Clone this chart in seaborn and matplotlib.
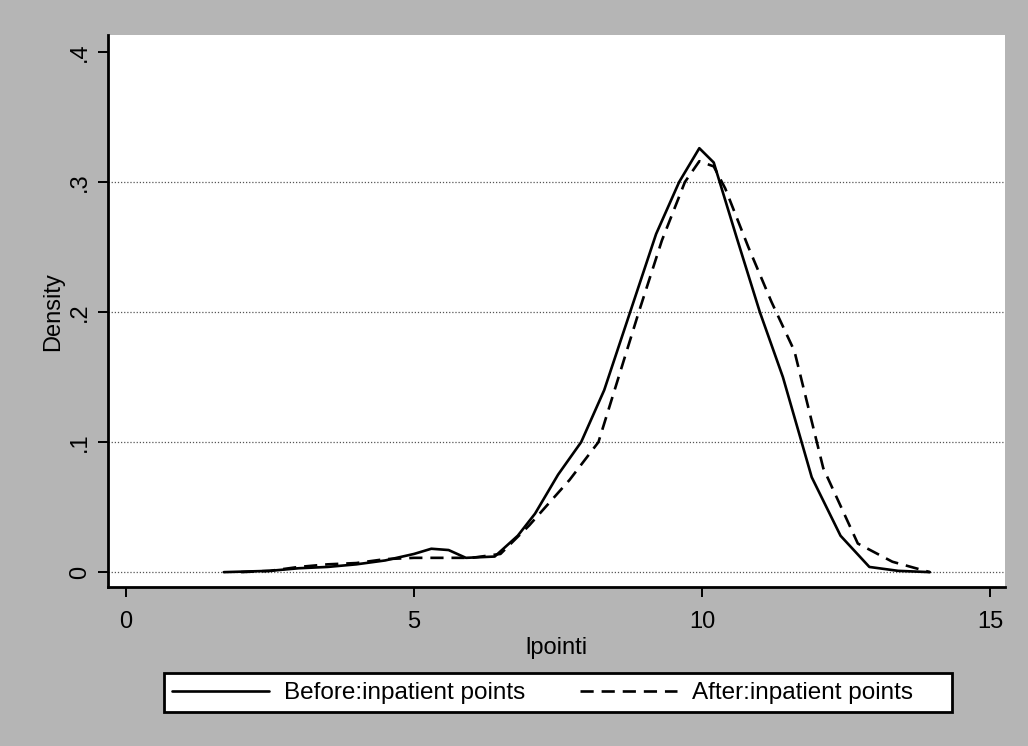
import numpy as np
import pandas as pd
import matplotlib
matplotlib.use("Agg")
import matplotlib.pyplot as plt
from matplotlib.patches import Rectangle
import seaborn as sns

# kernel density curves
x_before = [1.7, 2.5, 3.0, 3.5, 4.0, 4.5, 5.0, 5.3, 5.6, 5.9, 6.4, 6.8, 7.1, 7.5, 7.9,
            8.3, 8.75, 9.2, 9.6, 9.95, 10.2, 10.6, 11.0, 11.4, 11.9, 12.4, 12.9, 13.4, 13.95]
y_before = [0.000, 0.001, 0.003, 0.004, 0.006, 0.009, 0.014, 0.018, 0.017, 0.011, 0.012, 0.028, 0.045, 0.075, 0.100,
            0.140, 0.200, 0.260, 0.300, 0.326, 0.315, 0.257, 0.200, 0.150, 0.073, 0.028, 0.004, 0.001, 0.000]

x_after = [2.0, 2.5, 3.0, 3.5, 4.0, 4.5, 5.0, 5.5, 6.0, 6.5, 7.0, 7.7, 8.2, 8.9, 9.3,
           9.7, 9.95, 10.2, 10.4, 10.8, 11.2, 11.6, 12.1, 12.7, 13.3, 13.95]
y_after = [0.000, 0.001, 0.004, 0.006, 0.007, 0.010, 0.011, 0.011, 0.011, 0.014, 0.036, 0.071, 0.100, 0.200, 0.255,
           0.300, 0.316, 0.312, 0.295, 0.250, 0.208, 0.170, 0.080, 0.022, 0.008, 0.000]

x_ticks = [0, 5, 10, 15]
y_ticks = [0, 0.1, 0.2, 0.3, 0.4]
y_ticklabels = ["0", ".1", ".2", ".3", ".4"]

sns.set_style("white")
plt.rcParams['font.family'] = ['Liberation Sans', 'DejaVu Sans']
plt.rcParams['text.color'] = 'black'
plt.rcParams['axes.labelcolor'] = 'black'
plt.rcParams['xtick.color'] = 'black'
plt.rcParams['ytick.color'] = 'black'

fig = plt.figure(figsize=(10.28, 7.46), dpi=100, facecolor="#b5b5b5")
ax = fig.add_axes([0.105, 0.213, 0.873, 0.740])
ax.set_facecolor("white")

for g in [0, 0.1, 0.2, 0.3]:
    ax.axhline(g, color="#555555", lw=0.9, ls=(0, (1, 1.5)), zorder=1)

sns.lineplot(x=x_before, y=y_before, ax=ax, color="black", lw=1.9,
             label="Before:inpatient points", legend=False, zorder=3)
sns.lineplot(x=x_after, y=y_after, ax=ax, color="black", lw=1.9,
             linestyle=(0, (5, 3)), label="After:inpatient points", legend=False, zorder=3)

ax.set_xlim(-0.31, 15.26)
ax.set_ylim(-0.0115, 0.413)
ax.set_xticks(x_ticks)
ax.set_xticklabels([str(t) for t in x_ticks])
ax.set_yticks(y_ticks)
ax.set_yticklabels(y_ticklabels, rotation=90, va="center")
ax.tick_params(axis="both", direction="out", length=7, width=1.4, color="black",
               labelcolor="black", labelsize=17, left=True, bottom=True)
ax.tick_params(axis="x", pad=10)
ax.tick_params(axis="y", pad=5)

for s in ["top", "right"]:
    ax.spines[s].set_visible(False)
for s in ["left", "bottom"]:
    ax.spines[s].set_color("black")
    ax.spines[s].set_linewidth(2)

ax.set_xlabel("lpointi", fontsize=17, labelpad=3, color="black")
ax.set_ylabel("Density", fontsize=17, labelpad=4, color="black")

# legend box drawn on its own, legend entries placed inside it
fig.patches.append(Rectangle((164 / 1028, 34 / 746), 788 / 1028, 39 / 746,
                             transform=fig.transFigure, facecolor="white",
                             edgecolor="black", linewidth=2, zorder=1))
handles, labels = ax.get_legend_handles_labels()
leg = fig.legend(handles, labels, ncol=2, loc="center left",
                 bbox_to_anchor=(172 / 1028, 0.0710), fontsize=17.5,
                 frameon=False, handlelength=4.0, handletextpad=0.6,
                 columnspacing=2.25, borderaxespad=0, borderpad=0,
                 labelcolor="black")
leg.set_zorder(2)

fig.savefig("out.png", dpi=100, facecolor=fig.get_facecolor())
